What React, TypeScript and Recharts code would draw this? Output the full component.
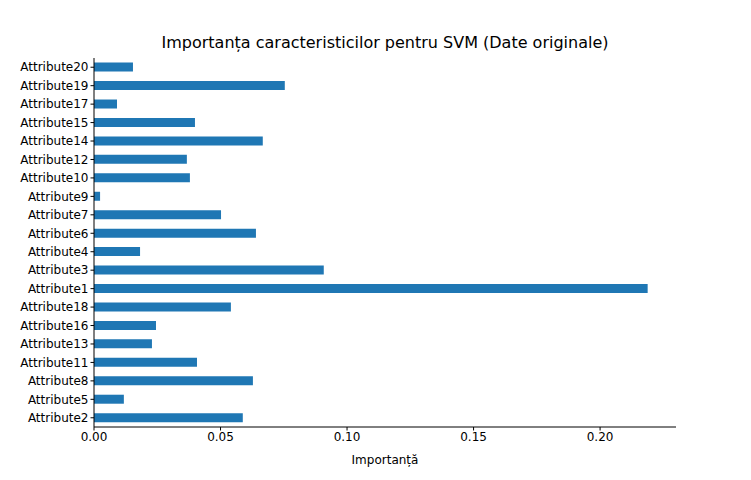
import React from "react"
import { Bar, BarChart, XAxis, YAxis } from "recharts"

const attributes = [
  "Attribute20", "Attribute19", "Attribute17", "Attribute15", "Attribute14",
  "Attribute12", "Attribute10", "Attribute9", "Attribute7", "Attribute6",
  "Attribute4", "Attribute3", "Attribute1", "Attribute18", "Attribute16",
  "Attribute13", "Attribute11", "Attribute8", "Attribute5", "Attribute2",
]
const importance = [
  0.0154, 0.0754, 0.0091, 0.0399, 0.0667,
  0.0367, 0.0379, 0.0024, 0.0502, 0.064,
  0.0182, 0.0908, 0.2188, 0.0541, 0.0245,
  0.0229, 0.0407, 0.0628, 0.0118, 0.0588,
]
const xTicks = [0, 0.05, 0.1, 0.15, 0.2]

const data = attributes.map((name, i) => ({ name, value: importance[i] }))

const font = "DejaVu Sans, sans-serif"

const App = () => {
  return (
    <div style={{ position: "absolute", left: 0, top: 0, width: 751, height: 480, background: "#fff", fontFamily: font }}>
      <div style={{ position: "absolute", top: 33, left: 94, width: 582, textAlign: "center", fontSize: 16 }}>
        Importanța caracteristicilor pentru SVM (Date originale)
      </div>
      <BarChart
        width={751}
        height={480}
        data={data}
        layout="vertical"
        barCategoryGap="25%"
        margin={{ top: 58, right: 75, bottom: 0, left: 0 }}
      >
        <XAxis
          type="number"
          domain={[0, 0.23]}
          ticks={xTicks}
          tickFormatter={(v: number) => v.toFixed(2)}
          allowDataOverflow
          height={53}
          stroke="#000"
          tickSize={3.5}
          tick={{ fill: "#000", fontSize: 12, fontFamily: font }}
          label={{ value: "Importanță", position: "insideBottom", offset: 16, fill: "#000", fontSize: 12, fontFamily: font }}
        />
        <XAxis xAxisId="top" type="number" orientation="top" height={0} domain={[0, 0.23]} tick={false} tickLine={false} stroke="#000" />
        <YAxis
          type="category"
          dataKey="name"
          width={94}
          interval={0}
          stroke="#000"
          tickSize={3.5}
          tick={{ fill: "#000", fontSize: 12, fontFamily: font }}
        />
        <YAxis yAxisId="right" type="category" dataKey="name" orientation="right" width={0} tick={false} tickLine={false} stroke="#000" />
        <Bar dataKey="value" fill="#1f77b4" isAnimationActive={false} />
      </BarChart>
    </div>
  )
}

export default App
